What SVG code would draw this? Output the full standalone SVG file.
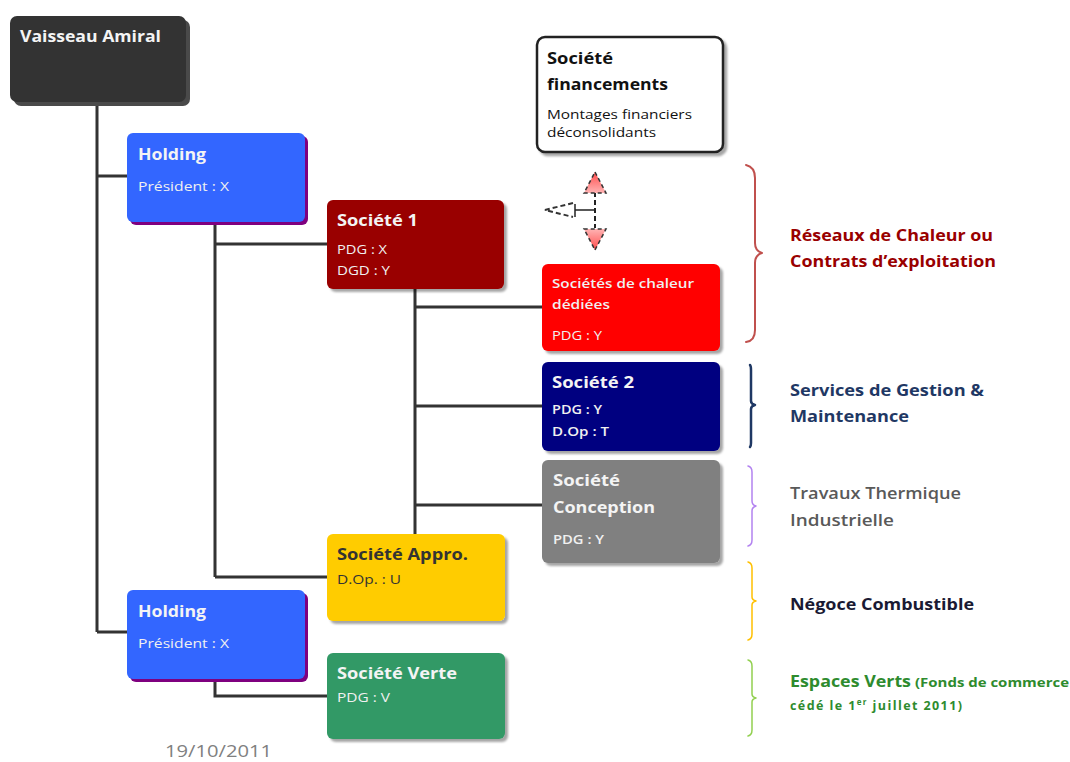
<svg xmlns="http://www.w3.org/2000/svg" width="1070" height="762" viewBox="0 0 1070 762">
  <defs>
    <filter id="shadow" x="-10%" y="-10%" width="130%" height="130%">
      <feDropShadow dx="3" dy="3" stdDeviation="1.2" flood-color="#000" flood-opacity="0.35"/>
    </filter>
    <linearGradient id="arrowFill" x1="0" y1="0" x2="0" y2="1">
      <stop offset="0" stop-color="#ff4d4d"/>
      <stop offset="1" stop-color="#ffb3b3"/>
    </linearGradient>
    <linearGradient id="arrowFillDown" x1="0" y1="0" x2="0" y2="1">
      <stop offset="0" stop-color="#ffb3b3"/>
      <stop offset="1" stop-color="#ff4d4d"/>
    </linearGradient>
  </defs>
  <style>
    text { font-family: "Open Sans", "Liberation Sans", sans-serif; }
    .box { filter: url(#shadow); }
    .t { font-weight: bold; font-size: 16px; fill: #f4f4f4; }
    .s { font-size: 12.5px; fill: #f0f0f0; }
    .sb { font-size: 12.5px; font-weight: 600; fill: #f0f0f0; }
    .link { stroke: #333; stroke-width: 3; fill: none; }
    .brace { fill: none; stroke-linecap: round; stroke-linejoin: round; }
    .lbl { font-weight: bold; font-size: 16px; }
    .note { font-size: 12.5px; font-weight: bold; fill: #2e8b2e; }
  </style>

  <!-- connectors -->
  <g id="connectors">
    <path class="link" d="M97 100 V632 M97 176 H127 M97 632 H127"/>
    <path class="link" d="M215 222 V577 M215 244 H327 M215 577 H327"/>
    <path class="link" d="M415 289 V535 M415 307 H542 M415 406 H542 M415 505 H542"/>
    <path class="link" d="M215 679 V696 H327"/>
  </g>

  <!-- top node -->
  <g id="vaisseau-amiral">
    <rect x="14" y="20" width="176" height="86" rx="7" fill="#4a4a4a"/>
    <rect x="10" y="16" width="176" height="86" rx="7" fill="#333"/>
    <text class="t" x="20" y="42" textLength="141" lengthAdjust="spacingAndGlyphs">Vaisseau Amiral</text>
  </g>

  <g id="holding-1">
    <rect x="130" y="136" width="178" height="89" rx="6" fill="#7f007f"/>
    <rect x="127" y="133" width="178" height="89" rx="6" fill="#3366ff"/>
    <text class="t" x="138" y="160" textLength="68" lengthAdjust="spacingAndGlyphs">Holding</text>
    <text class="s" x="138" y="191" textLength="91" lengthAdjust="spacingAndGlyphs">Président : X</text>
  </g>

  <g id="holding-2">
    <rect x="130" y="593" width="178" height="89" rx="6" fill="#7f007f"/>
    <rect x="127" y="590" width="178" height="89" rx="6" fill="#3366ff"/>
    <text class="t" x="138" y="617" textLength="68" lengthAdjust="spacingAndGlyphs">Holding</text>
    <text class="s" x="138" y="648" textLength="91" lengthAdjust="spacingAndGlyphs">Président : X</text>
  </g>

  <g id="societe-1">
    <rect class="box" x="327" y="200" width="177" height="89" rx="6" fill="#990000"/>
    <text class="t" x="337" y="226" textLength="81" lengthAdjust="spacingAndGlyphs">Société 1</text>
    <text class="s" x="337" y="254" textLength="50" lengthAdjust="spacingAndGlyphs">PDG : X</text>
    <text class="s" x="337" y="275" textLength="53" lengthAdjust="spacingAndGlyphs">DGD : Y</text>
  </g>

  <g id="societes-chaleur">
    <rect class="box" x="542" y="264" width="178" height="87" rx="6" fill="#ff0000"/>
    <text class="sb" x="552" y="288" textLength="142" lengthAdjust="spacingAndGlyphs">Sociétés de chaleur</text>
    <text class="sb" x="552" y="309" textLength="58" lengthAdjust="spacingAndGlyphs">dédiées</text>
    <text class="s" x="552" y="340" textLength="50" lengthAdjust="spacingAndGlyphs">PDG : Y</text>
  </g>

  <g id="societe-2">
    <rect class="box" x="542" y="362" width="178" height="89" rx="6" fill="#000080"/>
    <text class="t" x="552" y="388" textLength="82" lengthAdjust="spacingAndGlyphs">Société 2</text>
    <text class="sb" x="552" y="414" textLength="50" lengthAdjust="spacingAndGlyphs">PDG : Y</text>
    <text class="sb" x="552" y="436" textLength="57" lengthAdjust="spacingAndGlyphs">D.Op : T</text>
  </g>

  <g id="societe-conception">
    <rect class="box" x="542" y="460" width="178" height="103" rx="6" fill="#808080"/>
    <text class="t" x="553" y="486" textLength="67" lengthAdjust="spacingAndGlyphs">Société</text>
    <text class="t" x="553" y="513" textLength="102" lengthAdjust="spacingAndGlyphs">Conception</text>
    <text class="sb" x="553" y="544" textLength="51" lengthAdjust="spacingAndGlyphs">PDG : Y</text>
  </g>

  <g id="societe-appro">
    <rect class="box" x="327" y="534" width="178" height="87" rx="6" fill="#ffcc00"/>
    <text class="t" x="337" y="560" textLength="131" lengthAdjust="spacingAndGlyphs" style="fill:#333">Société Appro.</text>
    <text class="s" x="337" y="584" textLength="64" lengthAdjust="spacingAndGlyphs" style="fill:#333">D.Op. : U</text>
  </g>

  <g id="societe-verte">
    <rect class="box" x="327" y="653" width="178" height="86" rx="6" fill="#339966"/>
    <text class="t" x="337" y="679" textLength="120" lengthAdjust="spacingAndGlyphs">Société Verte</text>
    <text class="s" x="337" y="702" textLength="53" lengthAdjust="spacingAndGlyphs">PDG : V</text>
  </g>

  <g id="societe-financements">
    <rect x="537" y="37" width="186" height="115" rx="8" fill="#fff" stroke="#222" stroke-width="2.5" filter="url(#shadow)"/>
    <text x="547" y="64" textLength="66" lengthAdjust="spacingAndGlyphs" style="font-weight:bold;font-size:16px;fill:#111">Société</text>
    <text x="547" y="90" textLength="121" lengthAdjust="spacingAndGlyphs" style="font-weight:bold;font-size:16px;fill:#111">financements</text>
    <text x="547" y="119" textLength="145" lengthAdjust="spacingAndGlyphs" style="font-size:12.5px;fill:#111">Montages financiers</text>
    <text x="547" y="137" textLength="109" lengthAdjust="spacingAndGlyphs" style="font-size:12.5px;fill:#111">déconsolidants</text>
  </g>

  <!-- dashed double arrow with side stub -->
  <g id="arrows">
    <path d="M595 192 V228" stroke="#222" stroke-width="2" stroke-dasharray="5 3" fill="none"/>
    <path d="M595 210 H575 M575 204 V217" stroke="#222" stroke-width="1.5" fill="none"/>
    <path d="M573 203 L545 210 L573 217" stroke="#333" stroke-width="2" stroke-dasharray="5 3" fill="none"/>
    <path d="M595 172 L606 193 H584 Z" fill="url(#arrowFill)" stroke="#333" stroke-width="1.5" stroke-dasharray="4 3"/>
    <path d="M595 250 L606 229 H584 Z" fill="url(#arrowFillDown)" stroke="#333" stroke-width="1.5" stroke-dasharray="4 3"/>
  </g>

  <!-- braces and activity labels -->
  <g id="brace-reseaux">
    <path class="brace" stroke="#c0504d" stroke-width="2" d="M746 165 Q755 167 755 178 V243 Q755 251 762 253 Q755 255 755 263 V330 Q755 341 746 342"/>
    <text class="lbl" x="790" y="241" textLength="203" lengthAdjust="spacingAndGlyphs" fill="#990000">Réseaux de Chaleur ou</text>
    <text class="lbl" x="790" y="267" textLength="206" lengthAdjust="spacingAndGlyphs" fill="#990000">Contrats d’exploitation</text>
  </g>

  <g id="brace-services">
    <path class="brace" stroke="#1f3864" stroke-width="2.5" d="M750 365 Q751 366 751 370 V401 Q751 404 755 405 Q751 406 751 409 V443 Q751 446 750 447"/>
    <text class="lbl" x="790" y="396" textLength="194" lengthAdjust="spacingAndGlyphs" fill="#1f3864">Services de Gestion &amp;</text>
    <text class="lbl" x="790" y="422" textLength="119" lengthAdjust="spacingAndGlyphs" fill="#1f3864">Maintenance</text>
  </g>

  <g id="brace-travaux">
    <path class="brace" stroke="#b383f0" stroke-width="1.5" d="M748 466 Q752 467 752 472 V501 Q752 505 756 506 Q752 507 752 511 V540 Q752 545 748 546"/>
    <text x="790" y="499" textLength="171" lengthAdjust="spacingAndGlyphs" style="font-size:16px;font-weight:600;fill:#595959">Travaux Thermique</text>
    <text x="790" y="526" textLength="104" lengthAdjust="spacingAndGlyphs" style="font-size:16px;font-weight:600;fill:#595959">Industrielle</text>
  </g>

  <g id="brace-negoce">
    <path class="brace" stroke="#ffc000" stroke-width="1.5" d="M748 562 Q752 563 752 568 V597 Q752 600 756 601 Q752 602 752 605 V634 Q752 639 748 640"/>
    <text class="lbl" x="790" y="610" textLength="184" lengthAdjust="spacingAndGlyphs" fill="#1a1a33">Négoce Combustible</text>
  </g>

  <g id="brace-espaces">
    <path class="brace" stroke="#92d050" stroke-width="1.5" d="M748 660 Q752 661 752 666 V694 Q752 697 756 698 Q752 699 752 702 V730 Q752 735 748 736"/>
    <text class="lbl" x="790" y="687" textLength="121" lengthAdjust="spacingAndGlyphs" fill="#2e8b2e">Espaces Verts</text>
    <text class="note" x="915" y="687" textLength="154" lengthAdjust="spacingAndGlyphs">(Fonds de commerce</text>
    <text class="note" x="790" y="710" textLength="172" lengthAdjust="spacing">cédé le 1<tspan baseline-shift="super" font-size="8">er</tspan> juillet 2011)</text>
  </g>

  <text x="165" y="757" textLength="107" lengthAdjust="spacingAndGlyphs" style="font-size:16px;fill:#808080">19/10/2011</text>
</svg>
